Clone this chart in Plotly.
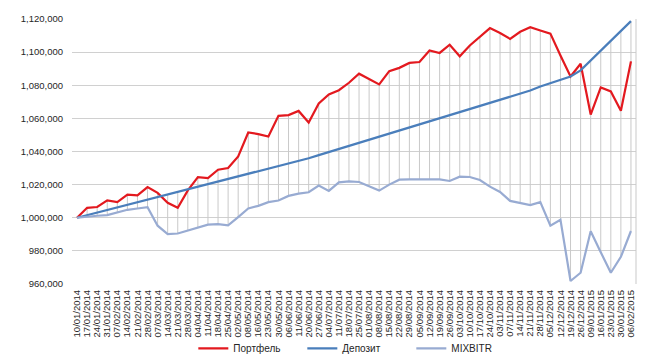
import plotly.graph_objects as go

dates = ["10/01/2014","17/01/2014","24/01/2014","31/01/2014","07/02/2014","14/02/2014","21/02/2014","28/02/2014",
         "07/03/2014","14/03/2014","21/03/2014","28/03/2014","04/04/2014","11/04/2014","18/04/2014","25/04/2014",
         "02/05/2014","08/05/2014","16/05/2014","23/05/2014","30/05/2014","06/06/2014","11/06/2014","20/06/2014",
         "27/06/2014","04/07/2014","11/07/2014","18/07/2014","25/07/2014","01/08/2014","08/08/2014","15/08/2014",
         "22/08/2014","29/08/2014","05/09/2014","12/09/2014","19/09/2014","26/09/2014","03/10/2014","10/10/2014",
         "17/10/2014","24/10/2014","03/11/2014","07/11/2014","14/11/2014","21/11/2014","28/11/2014","05/12/2014",
         "12/12/2014","19/12/2014","26/12/2014","09/01/2015","16/01/2015","23/01/2015","30/01/2015","06/02/2015"]

portfel = [1000000,1006000,1006500,1010500,1009500,1014000,1013500,1018500,1015000,1009000,1006000,1016500,
           1024500,1024000,1029000,1030000,1037000,1051500,1050500,1049000,1061500,1062000,1064500,1057500,
           1069000,1074500,1077000,1081500,1087000,1084000,1080500,1088500,1090500,1093500,1094000,1101000,
           1099500,1104500,1097500,1104000,1109000,1114500,1111500,1108000,1112300,1115000,1113100,1111200,
           1098000,1085300,1093000,1062300,1078700,1076300,1064600,1094400]

deposit = [1000000,1001550,1003100,1004650,1006200,1007750,1009300,1010850,1012400,1013950,1015500,1017050,
           1018600,1020150,1021700,1023250,1024800,1026350,1027900,1029450,1031000,1032550,1034100,1035950,
           1037800,1039650,1041500,1043350,1045200,1047050,1048900,1050750,1052600,1054450,1056300,1058150,
           1060000,1061850,1063700,1065550,1067400,1069300,1071500,1073000,1075000,1076800,1079300,1081300,
           1083300,1085300,1089000,1095000,1101000,1107000,1112800,1118700]

mixbitr = [1000000,1000800,1001200,1001600,1003200,1004800,1005600,1006400,995200,990100,990500,992300,
           993700,995800,996200,995400,1000400,1005600,1007200,1009400,1010400,1013200,1014600,1015400,
           1019400,1016200,1021400,1022000,1021600,1018800,1016400,1020000,1023000,1023200,1023200,1023300,
           1023200,1022200,1024800,1024600,1022800,1018800,1015600,1010200,1008800,1007600,1009400,995200,
           998800,961800,966800,991800,979200,966800,976400,992000]

series_names = ["Портфель", "Депозит", "MIXBITR"]
series_colors = ["#e3191f", "#4a7ebb", "#98abd2"]

fig = go.Figure()

# high-low lines
hx, hy = [], []
for d, a, b, c in zip(dates, portfel, deposit, mixbitr):
    hx += [d, d, None]
    hy += [max(a, b, c), min(a, b, c), None]
fig.add_trace(go.Scatter(x=hx, y=hy, mode="lines", line=dict(color="#c9c9c9", width=1),
                         showlegend=False, hoverinfo="skip"))

for name, vals, col in zip(series_names, [portfel, deposit, mixbitr], series_colors):
    fig.add_trace(go.Scatter(x=dates, y=vals, mode="lines", name=name,
                             line=dict(color=col, width=2.2)))

fig.update_layout(
    width=649, height=351,
    margin=dict(l=64, r=21, t=11, b=75),
    paper_bgcolor="white", plot_bgcolor="white",
    font=dict(family="Liberation Sans, Arial, sans-serif", color="#262626", size=10),
    legend=dict(orientation="h", x=0.505, xanchor="center", y=0.03, yanchor="middle",
                yref="container", font=dict(size=10), itemwidth=30, entrywidth=64,
                bgcolor="rgba(0,0,0,0)"),
    shapes=[dict(type="line", xref="paper", yref="paper", x0=1, x1=1, y0=0, y1=1,
                 line=dict(color="#c9c9c9", width=1))],
)
fig.update_xaxes(type="category", categoryorder="array", categoryarray=dates,
                 tickmode="array", tickvals=dates, ticktext=dates,
                 range=[-0.5, len(dates) - 0.5], tickangle=-90, tickfont=dict(size=9.5),
                 showgrid=False, showline=False, ticks="", zeroline=False, automargin=False,
                 ticklabelstandoff=3)
fig.update_yaxes(range=[960000, 1120000], dtick=20000, tickformat=",.0f",
                 showgrid=True, gridcolor="#d0d0d0", gridwidth=1, zeroline=False,
                 showline=False, ticks="", tickfont=dict(size=9.5), ticklabelstandoff=8,
                 automargin=False)

fig.write_html("out.html")
